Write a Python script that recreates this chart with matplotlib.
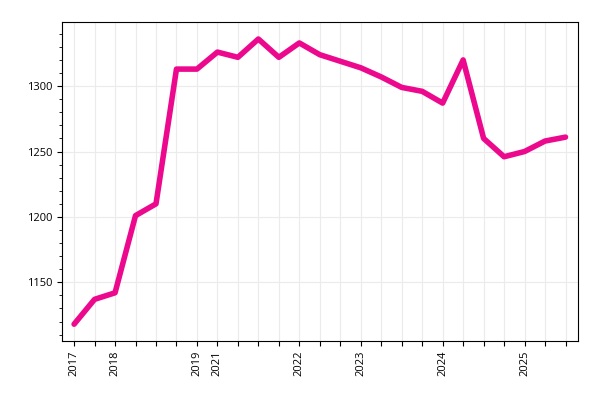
import matplotlib
matplotlib.use("Agg")
import matplotlib.pyplot as plt
from matplotlib.ticker import MultipleLocator

plt.rcParams['font.family'] = ['Open Sans', 'DejaVu Sans']

values = [1118, 1137, 1142, 1201, 1210, 1313, 1313, 1326, 1322, 1336, 1322, 1333,
          1324, 1319, 1314, 1307, 1299, 1296, 1287, 1320, 1260, 1246, 1250, 1258, 1261]
labels = ["2017", "", "2018", "", "", "", "2019", "2021", "", "", "", "2022",
          "", "", "2023", "", "", "", "2024", "", "", "", "2025", "", ""]

fig = plt.figure(figsize=(6, 4), dpi=100)
ax = fig.add_axes([0.103, 0.147, 0.86, 0.798])
x = list(range(len(values)))
ax.plot(x, values, color="#ec098d", lw=4, solid_joinstyle="round", solid_capstyle="round")
ax.set_xlim(-0.6, len(values) - 0.4)
ax.set_ylim(1105, 1349)
ax.set_xticks(x)
ax.set_xticklabels(labels, rotation=90, fontsize=8)
ax.yaxis.set_major_locator(MultipleLocator(50))
ax.yaxis.set_minor_locator(MultipleLocator(10))
ax.tick_params(axis="y", labelsize=8)
ax.grid(True, color="#ebebeb", lw=0.8)
ax.set_axisbelow(True)
fig.savefig("out.png")
